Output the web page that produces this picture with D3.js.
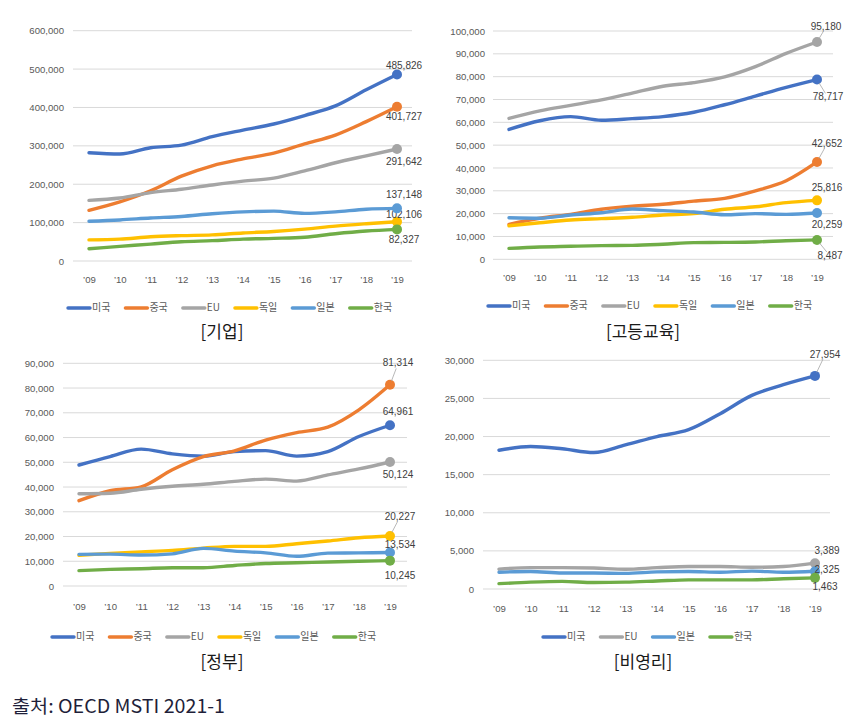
<!DOCTYPE html>
<html><head><meta charset="utf-8">
<script src="https://cdn.jsdelivr.net/npm/d3@7"></script>
<style>
html,body{margin:0;padding:0;background:#fff;}
svg{display:block;}
</style></head>
<body>
<svg id="chart" width="855" height="722"></svg>
<script>
// ---------- data ----------
const years = ['09','10','11','12','13','14','15','16','17','18','19'];
const yearLabels = years.map(y => '\u2019' + y);
const seriesNames = ['미국','중국','EU','독일','일본','한국'];
const seriesColors = ['#4472C4','#ED7D31','#A5A5A5','#FFC000','#5B9BD5','#70AD47'];

// [기업] business enterprise
const bizUS = [282000,278600,295000,302000,324000,341000,357000,379000,404000,446000,485826];
const bizCN = [132000,154000,183000,221000,248000,266000,281000,305000,328000,363000,401727];
const bizEU = [158000,164000,178000,187000,198000,208000,216000,235000,256000,274000,291642];
const bizDE = [55000,57000,63000,66000,68000,73000,77000,83000,91000,97000,102106];
const bizJP = [103600,107000,112000,116000,123000,128000,130000,124000,128000,135000,137148];
const bizKR = [32000,38000,44000,50000,53000,57000,59000,62000,71000,78000,82327];

// [고등교육] higher education
const heUS = [56900,60700,62500,60900,61600,62500,64400,67700,71500,75300,78717];
const heCN = [15300,18000,19700,21900,23300,24100,25500,26700,30000,34400,42652];
const heEU = [61700,65000,67400,69800,72800,75800,77400,79900,84400,90200,95180];
const heDE = [14700,16000,17200,17800,18400,19400,20000,21900,23000,24800,25816];
const heJP = [18200,18000,19400,20400,22000,21300,20700,19500,20000,19700,20259];
const heKR = [4800,5400,5700,6000,6100,6600,7300,7400,7600,8100,8487];

// [정부] government
const govUS = [48900,52300,55300,53400,52500,54300,54700,52500,54300,60400,64961];
const govCN = [34500,38500,40100,47000,52300,54600,59000,62000,64200,71200,81314];
const govEU = [37300,37500,39100,40300,41100,42300,43200,42400,44900,47300,50124];
const govDE = [12400,13200,13800,14400,15300,16000,16000,17100,18200,19500,20227];
const govJP = [12800,12900,12500,13000,15200,14100,13400,12000,13300,13400,13534];
const govKR = [6200,6700,7000,7400,7400,8300,9100,9400,9700,10000,10245];

// [비영리] private non-profit
const npUS = [18200,18700,18400,17900,18900,20000,20900,23000,25400,26800,27954];
const npEU = [2600,2800,2800,2750,2600,2800,2950,2950,2850,2950,3389];
const npJP = [2200,2300,2100,2100,2050,2250,2300,2200,2350,2200,2325];
const npKR = [700,900,1000,850,900,1050,1200,1200,1200,1350,1463];

const yTicks1 = [0,100000,200000,300000,400000,500000,600000];
const yTicks2 = d3.range(0,100001,10000);
const yTicks3 = d3.range(0,90001,10000);
const yTicks4 = d3.range(0,30001,5000);

const titles = ['[기업]','[고등교육]','[정부]','[비영리]'];
const sourceText = '출처: OECD MSTI 2021-1';

// ---------- layout ----------
const panels = [
  { title: titles[0], ticks: yTicks1, series: [0,1,2,3,4,5], values: [bizUS,bizCN,bizEU,bizDE,bizJP,bizKR],
    x09: 89, x19: 397, yTop: 30.7, y0: 261, gx0: 73, gx1: 412, tickX: 64, xLabY: 284, legY: 308, legX: 68, titleX: 222, titleY: 333,
    lab: [[7,-8,0],[7,11,0],[7,13,0],[7,-6,0],[7,-13,0],[7,11,0]] },
  { title: titles[1], ticks: yTicks2, series: [0,1,2,3,4,5], values: [heUS,heCN,heEU,heDE,heJP,heKR],
    x09: 509, x19: 817, yTop: 31, y0: 259.3, gx0: 493, gx1: 833, tickX: 485, xLabY: 282, legY: 306, legX: 488, titleX: 643, titleY: 333,
    lab: [[11,18,1],[10,-18,1],[9,-15,1],[10,-12,0],[10,12,0],[13,16,1]] },
  { title: titles[2], ticks: yTicks3, series: [0,1,2,3,4,5], values: [govUS,govCN,govEU,govDE,govJP,govKR],
    x09: 79, x19: 390, yTop: 363.3, y0: 586, gx0: 63, gx1: 407, tickX: 54, xLabY: 611, legY: 637, legX: 52, titleX: 222, titleY: 663,
    lab: [[8,-13,0],[8,-21,1],[8,13,0],[10,-19,1],[10,-7,0],[10,16,0]] },
  { title: titles[3], ticks: yTicks4, series: [0,2,4,5], values: [npUS,npEU,npJP,npKR],
    x09: 499, x19: 815, yTop: 360.3, y0: 589, gx0: 483, gx1: 830, tickX: 474, xLabY: 613, legY: 637, legX: 543, titleX: 643, titleY: 663,
    lab: [[10,-21,1],[12,-12,0],[12,-1,0],[10,10,0]] }
];

const svg = d3.select('#chart');
const numFont = '"Liberation Sans", Arial, sans-serif';
const korFont = '"Noto Sans CJK KR", "Noto Sans", sans-serif';
const fmt = d3.format(',');

panels.forEach(p => {
  const g = svg.append('g');
  const x = d3.scalePoint().domain(years).range([p.x09, p.x19]);
  const y = d3.scaleLinear().domain([0, d3.max(p.ticks)]).range([p.y0, p.yTop]);

  // gridlines
  g.selectAll('line.grid').data(p.ticks).join('line')
    .attr('x1', p.gx0).attr('x2', p.gx1)
    .attr('y1', d => y(d)).attr('y2', d => y(d))
    .attr('stroke', '#d9d9d9').attr('stroke-width', 1);

  // y axis labels
  const yAxis = d3.axisLeft(y).tickValues(p.ticks).tickFormat(fmt).tickSize(0).tickPadding(0);
  const ya = g.append('g').attr('transform', `translate(${p.tickX},0)`).call(yAxis);
  ya.select('.domain').remove();
  ya.selectAll('text').attr('fill', '#595959').attr('font-size', 9.6).attr('font-family', numFont);

  // x axis labels
  const xAxis = d3.axisBottom(x).tickFormat((d, i) => yearLabels[i]).tickSize(0).tickPadding(0);
  const xa = g.append('g').attr('transform', `translate(0,${p.xLabY - 8})`).call(xAxis);
  xa.select('.domain').remove();
  xa.selectAll('text').attr('fill', '#595959').attr('font-size', 9.6).attr('font-family', numFont);

  const line = d3.line().x((d, i) => x(years[i])).y(d => y(d)).curve(d3.curveMonotoneX);

  p.series.forEach((si, k) => {
    g.append('path').datum(p.values[k])
      .attr('d', line).attr('fill', 'none')
      .attr('stroke', seriesColors[si]).attr('stroke-width', 3.4)
      .attr('stroke-linejoin', 'round').attr('stroke-linecap', 'round');
  });
  p.series.forEach((si, k) => {
    const vals = p.values[k];
    const last = vals[vals.length - 1];
    const cx = x(years[years.length - 1]), cy = y(last);
    g.append('circle').attr('cx', cx).attr('cy', cy).attr('r', 5).attr('fill', seriesColors[si]);
    const [dx, dy, leader] = p.lab[k];
    const lx = cx + dx, ly = cy + dy;
    if (leader) {
      const len = Math.hypot(dx, dy);
      const ux = dx / len, uy = dy / len;
      g.append('line')
        .attr('x1', cx + ux * 4).attr('y1', cy + uy * 4)
        .attr('x2', cx + ux * (len - 5)).attr('y2', cy + uy * (len - 5))
        .attr('stroke', '#a6a6a6').attr('stroke-width', 0.8);
    }
    g.append('text').attr('x', lx).attr('y', ly)
      .attr('text-anchor', 'middle').attr('dominant-baseline', 'middle')
      .attr('fill', '#404040').attr('font-size', 10).attr('font-family', numFont)
      .text(fmt(last));
  });

  // legend
  let lxPos = p.legX;
  p.series.forEach(si => {
    g.append('line').attr('x1', lxPos).attr('x2', lxPos + 22)
      .attr('y1', p.legY).attr('y2', p.legY)
      .attr('stroke', seriesColors[si]).attr('stroke-width', 3.4).attr('stroke-linecap', 'round');
    const t = g.append('text').attr('x', lxPos + 24).attr('y', p.legY)
      .attr('dominant-baseline', 'middle').attr('fill', '#595959')
      .attr('font-size', 10).attr('font-family', korFont).text(seriesNames[si]);
    lxPos += 24 + t.node().getComputedTextLength() + 15;
  });

  // title
  g.append('text').attr('x', p.titleX).attr('y', p.titleY)
    .attr('text-anchor', 'middle').attr('dominant-baseline', 'middle')
    .attr('fill', '#1a1a1a').attr('font-size', 17).attr('font-family', korFont)
    .text(p.title);
});

// source
svg.append('text').attr('x', 12).attr('y', 713)
  .attr('fill', '#1f1f3a').attr('font-size', 18.5).attr('font-family', korFont)
  .attr('textLength', 213).attr('lengthAdjust', 'spacingAndGlyphs')
  .text(sourceText);
</script>
</body></html>
